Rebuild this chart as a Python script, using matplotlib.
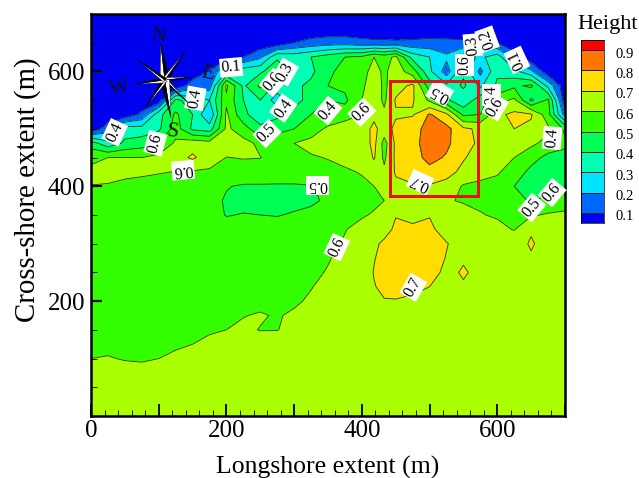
import numpy as np
import matplotlib
matplotlib.use("Agg")
import matplotlib.pyplot as plt
from matplotlib.colors import BoundaryNorm, ListedColormap
from matplotlib.patches import Rectangle

plt.rcParams['font.family'] = ['Liberation Serif', 'DejaVu Serif']

# grid of the height field
x_m = [0, 25, 50, 75, 100, 125, 150, 175, 200, 225, 250, 275, 300, 325, 350,
       375, 400, 418, 433, 450, 475, 500, 525, 550, 575, 600, 625, 650, 675, 700]
y_m = [700, 675, 650, 625, 600, 575, 550, 525, 500, 475, 450, 425, 400, 375,
       350, 325, 300, 275, 250, 225, 200, 175, 150, 125, 100, 75, 0]
height = [
    [.03]*30,
    [.03]*30,
    [.03]*12 + [.10, .13, .15, .15, .13, .12, .12, .115, .12, .13, .125, .12, .11, .10, .03, .03, .03, .03],
    [.03]*9 + [.10, .18, .38, .36, .40, .45, .50, .52, .60, .56, .62, .36, .30, .22, .35, .28, .35, .15, .03, .03, .03],
    [.03]*7 + [.11, .30, .36, .38, .48, .37, .38, .47, .55, .56, .64, .58, .65, .55, .32, .15, .38, .17, .38, .33, .22, .03, .03],
    [.03]*6 + [.15, .15, .62, .38, .52, .36, .38, .42, .50, .52, .58, .66, .58, .66, .72, .45, .32, .42, .28, .42, .48, .52, .27, .03],
    [.03]*5 + [.42, .36, .30, .58, .40, .40, .24, .38, .42, .50, .48, .60, .66, .58, .71, .71, .58, .42, .32, .46, .56, .62, .38, .52, .03],
    [.03]*3 + [.12, .36, .52, .40, .20, .62, .42, .35, .38, .42, .50, .52, .55, .60, .68, .62, .69, .69, .81, .72, .48, .50, .68, .72, .71, .54, .15],
    [.03, .15, .35, .34, .38, .55, .38, .35, .62, .55, .42, .45, .50, .55, .62, .66, .66, .72, .66, .72, .77, .83, .83, .72, .68, .66, .70, .68, .62, .48],
    [.45, .33, .42, .45, .50, .62, .66, .64, .65, .63, .58, .60, .60, .63, .66, .63, .64, .73, .56, .72, .78, .83, .82, .74, .68, .65, .63, .62, .57, .52],
    [.58, .60, .60, .60, .63, .66, .715, .65, .598, .605, .602, .575, .58, .59, .605, .62, .62, .71, .58, .72, .76, .83, .79, .71, .65, .63, .60, .54, .47, .47],
    [.62, .62, .61, .61, .605, .598, .59, .585, .57, .56, .56, .55, .55, .56, .57, .59, .605, .64, .62, .71, .74, .77, .74, .67, .63, .61, .56, .47, .46, .47],
    [.598, .595, .59, .58, .57, .56, .55, .53, .505, .49, .49, .49, .49, .495, .52, .56, .585, .60, .61, .68, .69, .69, .66, .59, .58, .57, .50, .45, .46, .49],
    [.57, .57, .57, .56, .56, .55, .54, .53, .49, .47, .47, .47, .47, .48, .52, .55, .58, .59, .60, .63, .65, .65, .605, .595, .585, .57, .53, .49, .53, .55],
    [.56, .56, .56, .56, .55, .55, .54, .54, .495, .505, .50, .495, .51, .53, .56, .58, .595, .605, .64, .695, .67, .695, .63, .62, .605, .59, .56, .59, .61, .62],
    [.56, .56, .56, .56, .55, .55, .55, .55, .54, .54, .54, .545, .55, .56, .58, .598, .615, .63, .66, .72, .72, .72, .66, .64, .63, .625, .595, .69, .64, .64],
    [.56, .56, .56, .56, .56, .56, .56, .56, .56, .56, .56, .56, .56, .57, .585, .605, .62, .68, .72, .74, .75, .74, .705, .66, .65, .65, .66, .71, .66, .65],
    [.56, .56, .56, .56, .56, .56, .56, .56, .56, .56, .56, .56, .57, .58, .595, .62, .64, .695, .73, .75, .75, .75, .695, .69, .65, .65, .65, .69, .65, .65],
    [.56, .56, .56, .56, .56, .56, .56, .56, .56, .56, .56, .565, .575, .585, .605, .63, .64, .705, .74, .75, .75, .74, .675, .71, .675, .65, .65, .65, .65, .65],
    [.56, .56, .56, .56, .56, .56, .56, .56, .56, .565, .57, .575, .585, .597, .62, .64, .65, .695, .72, .73, .725, .70, .67, .69, .65, .65, .65, .65, .65, .65],
    [.56, .56, .56, .56, .56, .56, .56, .56, .565, .57, .585, .575, .59, .61, .63, .64, .65, .66, .695, .695, .68, .67, .66, .66, .66, .66, .66, .66, .66, .66],
    [.57, .57, .57, .57, .57, .57, .575, .58, .585, .598, .605, .595, .61, .63, .64, .65, .65, .66, .66, .66, .66, .66, .66, .66, .66, .66, .66, .66, .66, .66],
    [.58, .58, .58, .58, .58, .585, .59, .595, .60, .61, .598, .598, .62, .64, .65, .65, .65, .66, .66, .66, .66, .66, .66, .66, .66, .66, .66, .66, .66, .66],
    [.58, .58, .585, .585, .585, .595, .60, .61, .62, .63, .63, .64, .65, .65, .65, .65, .66, .66, .66, .66, .66, .66, .66, .66, .66, .66, .66, .66, .66, .66],
    [.60, .605, .595, .59, .60, .607, .62, .63, .64, .64, .65, .65, .65, .65, .65, .66, .66, .66, .66, .66, .66, .66, .66, .66, .66, .66, .66, .66, .66, .66],
    [.63, .63, .63, .63, .64, .64, .65, .65, .65, .65, .65, .66, .66, .66, .66, .66, .66, .66, .66, .66, .66, .66, .66, .66, .66, .66, .66, .66, .66, .66],
    [.66]*30,
]

levels = [0.1, 0.2, 0.3, 0.4, 0.5, 0.6, 0.7, 0.8, 0.9]
band_colors = ['#0000f0', '#0066ff', '#00e5ff', '#00ffb4', '#00ff55',
               '#33ff00', '#aaff00', '#ffdd00', '#ff7700', '#ff0000']

# contour labels: text, x, y, rotation
label_text = ['0.4', '0.6', '0.4', '0.1', '0.6', '0.3', '0.4', '0.5', '0.4', '0.6', '0.5', '0.6', '0.5',
              '0.7', '0.6', '0.3', '0.2', '0.1', '0.4', '0.6', '0.4', '0.5', '0.6', '0.6', '0.7']
label_x = [35, 95, 154, 207, 269, 287, 284, 260, 350, 136, 335, 400, 515,
           486, 552, 564, 585, 629, 591, 597, 681, 651, 681, 363, 476]
label_y = [494, 475, 553, 607, 581, 599, 536, 492, 532, 428, 402, 529, 562,
           407, 611, 646, 656, 620, 559, 538, 484, 363, 389, 294, 224]
label_rot = [65, 75, 80, 5, 50, 60, 55, 45, 50, 185, 180, 45, 150,
             155, 90, 95, 110, 115, 90, 60, 85, 50, 50, 65, 60]

# compass rose
rose_centre = (109, 585)
rose_tip_x = [103, 139, 149, 143, 118, 80, 65, 69]
rose_tip_y = [649, 634, 590, 546, 520, 537, 578, 620]
rose_text = ['N', 'W', 'E', 'S']
rose_text_x = [99, 43, 172, 120]
rose_text_y = [661, 570, 596, 494]
rose_text_rot = [-8, 12, -12, -5]

fig = plt.figure(figsize=(6.39, 4.78), dpi=100)
ax = fig.add_axes([91/639, 1 - 416/478, 474/639, 402/478])

ax.contourf(x_m, y_m, height, levels=levels, colors=band_colors, extend='both')
ax.contour(x_m, y_m, height, levels=levels, colors='#1c3a10', linewidths=0.6)

for t, x, y, r in zip(label_text, label_x, label_y, label_rot):
    ax.text(x, y, t, rotation=r, ha='center', va='center', fontsize=11.5, zorder=5,
            rotation_mode='anchor',
            bbox=dict(facecolor='white', edgecolor='none', pad=1.0))

ax.add_patch(Rectangle((442, 383), 129, 200, fill=False, edgecolor='#e8101c',
                       linewidth=2.2, zorder=6))

# each point of the rose is one light and one dark sliver
cx, cy = rose_centre
for i, (tx, ty) in enumerate(zip(rose_tip_x, rose_tip_y)):
    dx, dy = tx - cx, ty - cy
    w = 0.11 if i % 2 == 0 else 0.07
    ax.fill([cx, tx, cx - dy*w], [cy, ty, cy + dx*w], color='white', ec='black', lw=0.3, zorder=7)
    ax.fill([cx, tx, cx + dy*w], [cy, ty, cy - dx*w], color='black', ec='black', lw=0.3, zorder=7)
for t, x, y, r in zip(rose_text, rose_text_x, rose_text_y, rose_text_rot):
    ax.text(x, y, t, rotation=r, ha='center', va='center', fontsize=15, color='#111122', zorder=7)

ax.set_xlim(0, 700)
ax.set_ylim(0, 700)
ax.set_xticks(np.arange(0, 701, 100))
ax.set_xticklabels(['0', '', '200', '', '400', '', '600', ''])
ax.set_xticks(np.arange(0, 701, 20), minor=True)
ax.set_yticks([200, 400, 600])
ax.set_yticks(np.arange(50, 701, 50), minor=True)
ax.tick_params(axis='x', which='major', direction='in', length=9, width=1.3, labelsize=18, pad=3)
ax.tick_params(axis='y', which='major', direction='in', length=8, width=1.6, labelsize=18, pad=4)
ax.tick_params(axis='both', which='minor', direction='in', length=4, width=0.6)
for s in ax.spines.values():
    s.set_linewidth(1.8)
ax.set_xlabel('Longshore extent (m)', fontsize=18.5, labelpad=10)
ax.set_ylabel('Cross-shore extent (m)', fontsize=20.8, labelpad=5, y=0.562)

# legend bar
cax = fig.add_axes([581/639, 1 - 223/478, 23/639, 183/478])
edges = [0.05] + levels + [0.95]
cmap = ListedColormap(band_colors)
cax.pcolormesh([0, 1], edges, np.array(edges[:-1]).reshape(-1, 1) + 0.001, cmap=cmap,
               norm=BoundaryNorm(edges, cmap.N), edgecolors='#222222', linewidth=0.5)
cax.set_xticks([])
cax.set_yticks([])
for s in cax.spines.values():
    s.set_linewidth(0.5)
cax.set_ylim(0.05, 0.95)
for lev in levels:
    cax.text(1.5, lev - 0.02, '%.1f' % lev, ha='left', va='center', fontsize=10.5)
fig.text(608/639, 1 - 24/478, 'Height', ha='center', va='center', fontsize=16)

fig.savefig('out.png', dpi=100)
